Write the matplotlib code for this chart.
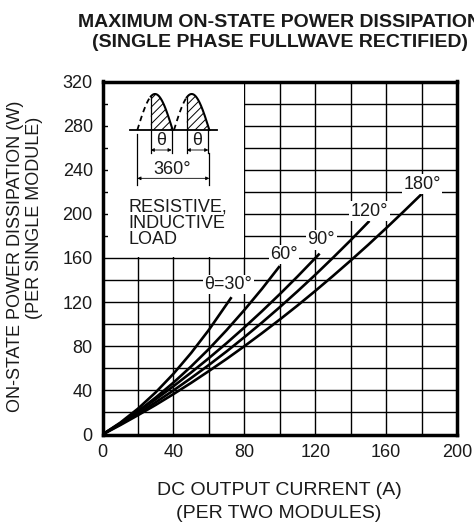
import numpy as np
import matplotlib
matplotlib.use('Agg')
import matplotlib.pyplot as plt
from matplotlib.patches import Rectangle

plt.rcParams['font.family'] = ['Liberation Sans', 'DejaVu Sans']
plt.rcParams['hatch.linewidth'] = 0.7

# ---- data ----
current_30 = [0, 10, 20, 30, 40, 50, 60, 72.8]
power_30 = [0, 10.7, 23.4, 38.2, 55.0, 73.9, 94.8, 124.5]

current_60 = [0, 10, 20, 30, 40, 50, 60, 70, 80, 90, 100]
power_60 = [0, 10.0, 21.1, 33.5, 47.0, 61.7, 77.5, 94.6, 112.8, 132.1, 152.7]

current_90 = [0, 10, 20, 30, 40, 50, 60, 70, 80, 90, 100, 110, 122.5]
power_90 = [0, 10.0, 20.7, 31.9, 43.7, 56.2, 69.2, 82.8, 97.0, 111.8, 127.2, 143.2, 164.0]

current_120 = [0, 10, 20, 30, 40, 50, 60, 70, 80, 90, 100, 110, 120, 130, 140, 150.6]
power_120 = [0, 9.2, 18.9, 29.2, 39.9, 51.2, 63.0, 75.3, 88.2, 101.5, 115.4, 129.8, 144.7, 160.2, 176.1, 193.6]

current_180 = [0, 10, 20, 30, 40, 50, 60, 70, 80, 90, 100, 110, 120, 130, 140, 150, 160, 170, 180]
power_180 = [0, 8.5, 17.5, 26.8, 36.6, 46.8, 57.5, 68.5, 80.0, 91.9, 104.2, 116.9, 130.1, 143.7,
             157.7, 172.1, 187.0, 202.3, 217.9]

curve_labels = ['θ=30°', '60°', '90°', '120°', '180°']
label_x = [71, 102.3, 123.5, 150.7, 180.4]
label_y = [136, 163.2, 176.5, 202.4, 227]

x_ticks = [0, 40, 80, 120, 160, 200]
y_ticks = [0, 40, 80, 120, 160, 200, 240, 280, 320]

title_lines = ['MAXIMUM ON-STATE POWER DISSIPATION', '(SINGLE PHASE FULLWAVE RECTIFIED)']
xlabel_lines = ['DC OUTPUT CURRENT (A)', '(PER TWO MODULES)']
ylabel_lines = ['ON-STATE POWER DISSIPATION (W)', '(PER SINGLE MODULE)']
load_lines = ['RESISTIVE,', 'INDUCTIVE', 'LOAD']

TXT = '#1a1a1a'
W, H = 474, 523
fig = plt.figure(figsize=(W / 100, H / 100), dpi=100)
fig.patch.set_facecolor('white')

ax = fig.add_axes([102.5 / W, 1 - 434.5 / H, (457 - 102.5) / W, (434.5 - 81.5) / H])
ax.set_xlim(0, 200)
ax.set_ylim(0, 320)
ax.set_xticks(x_ticks)
ax.set_yticks(y_ticks)
ax.set_xticks(np.arange(0, 201, 20), minor=True)
ax.set_yticks(np.arange(0, 321, 20), minor=True)
ax.set_axisbelow(True)
ax.grid(which='both', color='black', linewidth=1.0)
ax.tick_params(which='both', length=0, labelsize=13, pad=7, colors=TXT)
for s in ax.spines.values():
    s.set_linewidth(2.5)
    s.set_zorder(5)

# white area that holds the waveform sketch
ax.add_patch(Rectangle((3, 161.2), 76.6, 160, facecolor='white', edgecolor='none', zorder=1))

curves = [(current_30, power_30), (current_60, power_60), (current_90, power_90),
          (current_120, power_120), (current_180, power_180)]
for (c, p) in curves:
    ax.plot(c, p, color='black', lw=1.9, solid_capstyle='butt', zorder=3)

for lab, lx, ly in zip(curve_labels, label_x, label_y):
    ax.text(lx, ly, lab, ha='center', va='center', fontsize=13, color=TXT, zorder=4,
            bbox=dict(facecolor='white', edgecolor='none', pad=1.0))

# ---- titles / labels ----
fig.text(280 / W, 1 - 26.7 / H, title_lines[0], ha='center', va='baseline',
         fontsize=14, fontweight='bold', color=TXT)
fig.text(280 / W, 1 - 47 / H, title_lines[1], ha='center', va='baseline',
         fontsize=14, fontweight='bold', color=TXT)
fig.text(279 / W, 1 - 495 / H, xlabel_lines[0], ha='center', va='baseline', fontsize=14, color=TXT)
fig.text(279 / W, 1 - 518 / H, xlabel_lines[1], ha='center', va='baseline', fontsize=14, color=TXT)
fig.text(16 / W, 1 - 256.5 / H, ylabel_lines[0], ha='center', va='center', rotation=90,
         fontsize=13, color=TXT)
fig.text(35 / W, 1 - 217.5 / H, ylabel_lines[1], ha='center', va='center', rotation=90,
         fontsize=13, color=TXT)

# ---- waveform sketch (inset coordinate system) ----
ins = fig.add_axes([100 / W, 1 - 270 / H, 160 / W, 200 / H])
ins.set_xlim(0, 480)
ins.set_ylim(600, 0)
ins.axis('off')
ins.patch.set_alpha(0)

base_y = 180
ins.plot([90, 350], [base_y, base_y], color='black', lw=1.3)
for x0, xs in [(112, 152), (222, 260)]:
    xx = np.linspace(x0, x0 + 106, 200)
    yy = base_y - 108 * np.sin(np.pi * (xx - x0) / 106)
    m1 = xx <= xs
    m2 = xx >= xs
    ins.plot(xx[m1], yy[m1], color='black', lw=1.3, ls=(0, (3, 2.2)))
    ins.plot(xx[m2], yy[m2], color='black', lw=1.5)
    ins.fill_between(xx[m2], yy[m2], base_y, hatch='////', facecolor='none',
                     edgecolor='black', lw=0)
    ytop = base_y - 108 * np.sin(np.pi * (xs - x0) / 106)
    ins.plot([xs, xs], [ytop, 250], color='black', lw=0.9)
    xe = x0 + 106 - 3
    ins.plot([xe, xe], [base_y, 250], color='black', lw=0.9)
    ins.annotate('', xy=(xs, 240), xytext=(xe, 240),
                 arrowprops=dict(arrowstyle='<|-|>', lw=0.6, mutation_scale=5,
                                 shrinkA=0, shrinkB=0, color='black'))
    ins.text((xs + xe) / 2, 212, 'θ', ha='center', va='center', fontsize=13, color=TXT)

ins.plot([112, 112], [192, 345], color='black', lw=0.9)
ins.plot([328, 328], [250, 345], color='black', lw=0.9)
ins.annotate('', xy=(112, 325), xytext=(328, 325),
             arrowprops=dict(arrowstyle='<|-|>', lw=0.6, mutation_scale=5,
                             shrinkA=0, shrinkB=0, color='black'))
ins.text(215, 297, '360°', ha='center', va='center', fontsize=13, color=TXT)

for i, line in enumerate(load_lines):
    ins.text(84, 410 + 50 * i, line, ha='left', va='center', fontsize=13, color=TXT)

fig.savefig('out.png', dpi=100, facecolor='white')
